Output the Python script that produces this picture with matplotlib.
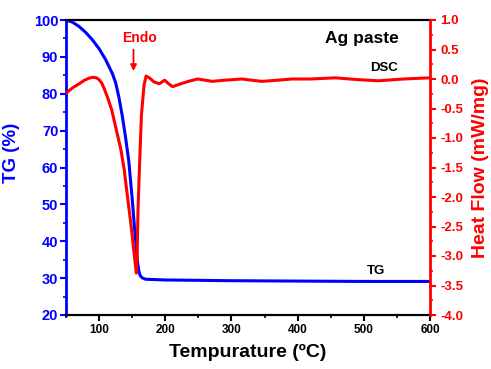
import matplotlib
matplotlib.use("Agg")
import matplotlib.pyplot as plt
from matplotlib.ticker import MultipleLocator

plt.rcParams['font.family'] = ['Liberation Sans', 'DejaVu Sans']
plt.rcParams['font.weight'] = 'bold'
plt.rcParams['axes.unicode_minus'] = False

# TG data (temperature in degC, weight %)
tg_temp = [50, 60, 70, 80, 90, 100, 110, 120, 125, 130, 135, 140, 145, 150, 155, 158, 160, 162, 165, 170, 200, 300, 400, 500, 600]
tg_val = [100, 99.4, 98.2, 96.6, 94.6, 92.2, 89.2, 85.5, 83.0, 79.0, 74.0, 68.2, 61.5, 51.5, 40.5, 34.5, 32.0, 30.7, 30.1, 29.7, 29.5, 29.3, 29.2, 29.1, 29.1]

# DSC data (temperature in degC, heat flow mW/mg)
dsc_temp = [50, 60, 70, 78, 85, 91, 96, 100, 104, 108, 113, 119, 126, 133, 138, 141, 145, 149, 154, 156.3, 157.3, 158.8, 161, 164, 166, 168, 171,
            176, 183, 191, 199, 205, 211, 221, 235, 249, 260, 271, 290, 316, 330, 346, 370, 391, 420, 457, 490, 522, 560, 600]
dsc_val = [-0.24, -0.15, -0.08, -0.02, 0.015, 0.03, 0.02, -0.01, -0.07, -0.17, -0.32, -0.52, -0.86, -1.2, -1.54, -1.82, -2.18, -2.55, -3.07, -3.29, -3.07, -2.22, -1.5, -0.6, -0.35, -0.1, 0.05,
           0.02, -0.05, -0.08, -0.02, -0.08, -0.13, -0.09, -0.04, 0.0, -0.02, -0.04, -0.02, 0.0, -0.02, -0.04, -0.02, 0.0, 0.0, 0.02, -0.01, -0.03, 0.0, 0.02]

BLUE = '#0000ff'
RED = '#ff0000'

fig = plt.figure(figsize=(4.91, 3.69), dpi=100)
ax1 = fig.add_axes([66/491, 1-315/369, (430-66)/491, (315-20)/369])
ax2 = ax1.twinx()

ax1.plot(tg_temp, tg_val, color=BLUE, lw=2.2)
ax2.plot(dsc_temp, dsc_val, color=RED, lw=2.2)

ax1.set_xlim(50, 600)
ax1.set_ylim(20, 100)
ax2.set_ylim(-4.0, 1.0)

ax1.xaxis.set_major_locator(MultipleLocator(100))
ax1.xaxis.set_minor_locator(MultipleLocator(50))
ax1.yaxis.set_major_locator(MultipleLocator(10))
ax1.yaxis.set_minor_locator(MultipleLocator(5))
ax2.yaxis.set_major_locator(MultipleLocator(0.5))
ax2.yaxis.set_minor_locator(MultipleLocator(0.25))
ax2.yaxis.set_major_formatter(plt.FuncFormatter(lambda v, p: f"{v:.1f}"))

for sp in ['top', 'bottom']:
    ax1.spines[sp].set_color('black')
    ax1.spines[sp].set_linewidth(1.6)
    ax2.spines[sp].set_visible(False)
ax1.spines['left'].set_color(BLUE)
ax1.spines['left'].set_linewidth(2.0)
ax1.spines['right'].set_visible(False)
ax2.spines['left'].set_visible(False)
ax2.spines['right'].set_color(RED)
ax2.spines['right'].set_linewidth(2.0)

ax1.tick_params(axis='x', which='major', direction='out', length=4.5, width=1.5, labelsize=8.5, pad=2, colors='black')
ax1.tick_params(axis='x', which='minor', direction='out', length=2.5, width=1.2)
ax1.tick_params(axis='y', which='major', direction='out', length=4.5, width=1.5, labelsize=10.5, pad=1, colors=BLUE)
ax1.tick_params(axis='y', which='minor', direction='out', length=2.5, width=1.2, colors=BLUE)
ax2.tick_params(axis='y', which='major', direction='out', length=4.5, width=1.5, labelsize=9.5, pad=3, colors=RED)
ax2.tick_params(axis='y', which='minor', direction='out', length=2.5, width=1.2, colors=RED)

for lab in ax1.get_xticklabels() + ax1.get_yticklabels() + ax2.get_yticklabels():
    lab.set_fontweight('bold')

ax1.set_xlabel('Tempurature (ºC)', fontsize=14, fontweight='bold', labelpad=6)
ax1.set_ylabel('TG (%)', fontsize=13.5, fontweight='bold', color=BLUE, labelpad=4)
ax1.yaxis.set_label_coords(-0.125, 0.55)
ax2.set_ylabel('Heat Flow (mW/mg)', fontsize=14, fontweight='bold', color=RED, labelpad=6)

ax1.text(497, 94.9, 'Ag paste', fontsize=12.5, fontweight='bold', ha='center', va='center')
ax1.text(530, 87.0, 'DSC', fontsize=9.5, fontweight='bold', ha='center', va='center')
ax1.text(519, 32.0, 'TG', fontsize=9.5, fontweight='bold', ha='center', va='center')
ax1.text(161, 95.1, 'Endo', fontsize=10, fontweight='bold', color=RED, ha='center', va='center')
ax1.annotate('', xy=(152, 85.4), xytext=(152, 92.7),
             arrowprops=dict(arrowstyle='-|>', color=RED, lw=1.3, mutation_scale=9))

fig.savefig('out.png', dpi=100)
